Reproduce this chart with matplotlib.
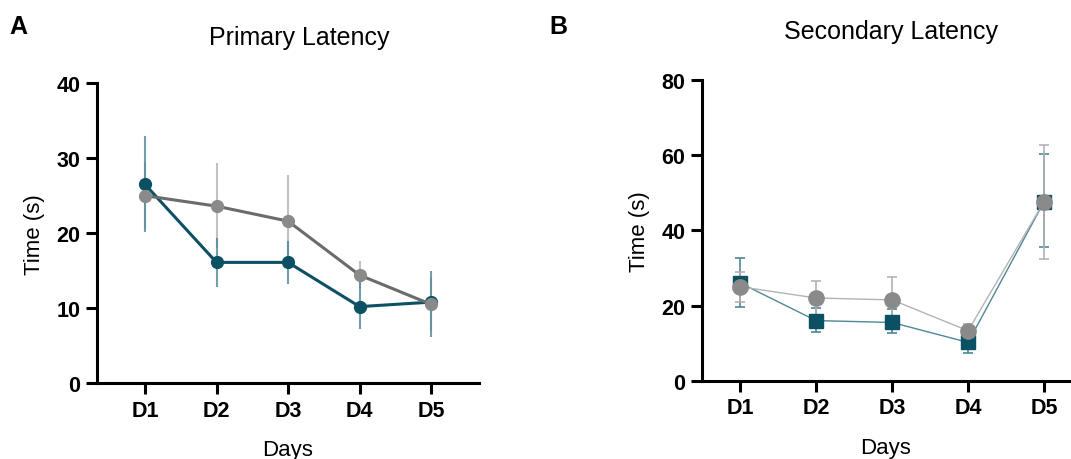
from matplotlib import pyplot as plt
import matplotlib

matplotlib.rcParams["font.family"] = ["Liberation Sans", "DejaVu Sans"]

days = ["D1", "D2", "D3", "D4", "D5"]

# Primary latency (panel A)
prim_teal = [26.5, 16.1, 16.1, 10.2, 10.8]
prim_teal_lo = [20.1, 12.8, 13.2, 7.2, 6.1]
prim_teal_hi = [33.0, 19.3, 19.0, 13.5, 15.0]
prim_grey = [25.0, 23.6, 21.6, 14.4, 10.5]
prim_grey_lo = [20.5, 18.0, 15.5, 12.5, 7.0]
prim_grey_hi = [29.5, 29.3, 27.8, 16.3, 14.0]

# Secondary latency (panel B)
sec_teal = [26.0, 16.0, 15.5, 10.2, 47.6]
sec_teal_lo = [19.5, 12.9, 12.7, 7.4, 35.5]
sec_teal_hi = [32.5, 19.3, 19.1, 13.0, 60.3]
sec_grey = [25.0, 22.0, 21.5, 13.3, 47.6]
sec_grey_lo = [21.0, 17.4, 15.3, 11.5, 32.4]
sec_grey_hi = [29.0, 26.6, 27.5, 15.0, 62.7]

TEAL = "#0b5063"
TEAL_LIGHT = "#4f8797"
GREY = "#6b6b6b"
GREY_MK = "#8a8a8a"
GREY_LIGHT = "#b3b3b3"

fig = plt.figure(figsize=(10.71, 4.6), dpi=100)
ax1 = fig.add_axes([0.0906, 0.165, 0.3567, 0.652])
ax2 = fig.add_axes([0.6555, 0.170, 0.3435, 0.6545])

x = list(range(1, len(days) + 1))


def err(vals, lo, hi):
    return [[v - l for v, l in zip(vals, lo)], [h - v for v, h in zip(vals, hi)]]


# panel A
ax1.errorbar(x, prim_grey, yerr=err(prim_grey, prim_grey_lo, prim_grey_hi), fmt="none",
             ecolor=GREY_LIGHT, elinewidth=1.5, alpha=0.8, zorder=1)
ax1.errorbar(x, prim_teal, yerr=err(prim_teal, prim_teal_lo, prim_teal_hi), fmt="none",
             ecolor=TEAL_LIGHT, elinewidth=1.5, alpha=0.8, zorder=2)
ax1.plot(x, prim_teal, color=TEAL, lw=2.2, marker="o", ms=8.5, zorder=3)
ax1.plot(x, prim_grey, color=GREY, lw=2.2, marker="o", ms=8.5, mfc=GREY_MK, mec=GREY_MK, zorder=4)
ax1.set_ylim(0, 40)
ax1.set_yticks([0, 10, 20, 30, 40])
ax1.set_xlim(0.33, 5.67)
ax1.set_title("Primary Latency", fontsize=18, pad=28, x=0.53)

# panel B
ax2.errorbar(x, sec_teal, yerr=err(sec_teal, sec_teal_lo, sec_teal_hi), fmt="none",
             ecolor=TEAL_LIGHT, elinewidth=1.2, capsize=3.5, capthick=1.2, zorder=1)
ax2.errorbar(x, sec_grey, yerr=err(sec_grey, sec_grey_lo, sec_grey_hi), fmt="none",
             ecolor=GREY_LIGHT, elinewidth=1.2, capsize=3.5, capthick=1.2, zorder=2)
ax2.plot(x, sec_teal, color=TEAL_LIGHT, lw=1.0, marker="s", ms=10.5, mfc=TEAL, mec=TEAL, zorder=3)
ax2.plot(x, sec_grey, color=GREY_LIGHT, lw=1.0, marker="o", ms=11, mfc=GREY_MK, mec=GREY_MK, zorder=4)
ax2.set_ylim(0, 80)
ax2.set_yticks([0, 20, 40, 60, 80])
ax2.set_xlim(0.5, 5.34)
ax2.set_title("Secondary Latency", fontsize=18, pad=30, x=0.514)

for ax in (ax1, ax2):
    ax.set_xticks(x)
    ax.set_xticklabels(days)
    ax.spines["top"].set_visible(False)
    ax.spines["right"].set_visible(False)
    for s in ("left", "bottom"):
        ax.spines[s].set_linewidth(2.2)
    ax.tick_params(width=2.2, length=8, labelsize=15.5, pad=4)
    for lab in ax.get_xticklabels() + ax.get_yticklabels():
        lab.set_fontweight("bold")
    ax.set_xlabel("Days", fontsize=16, labelpad=13)
    ax.set_ylabel("Time (s)", fontsize=16, labelpad=8)
    for ln in ax.get_lines():
        ln.set_clip_on(False)

fig.text(0.009, 0.925, "A", fontsize=18, fontweight="bold")
fig.text(0.513, 0.925, "B", fontsize=18, fontweight="bold")

plt.savefig("out.png", dpi=100)
